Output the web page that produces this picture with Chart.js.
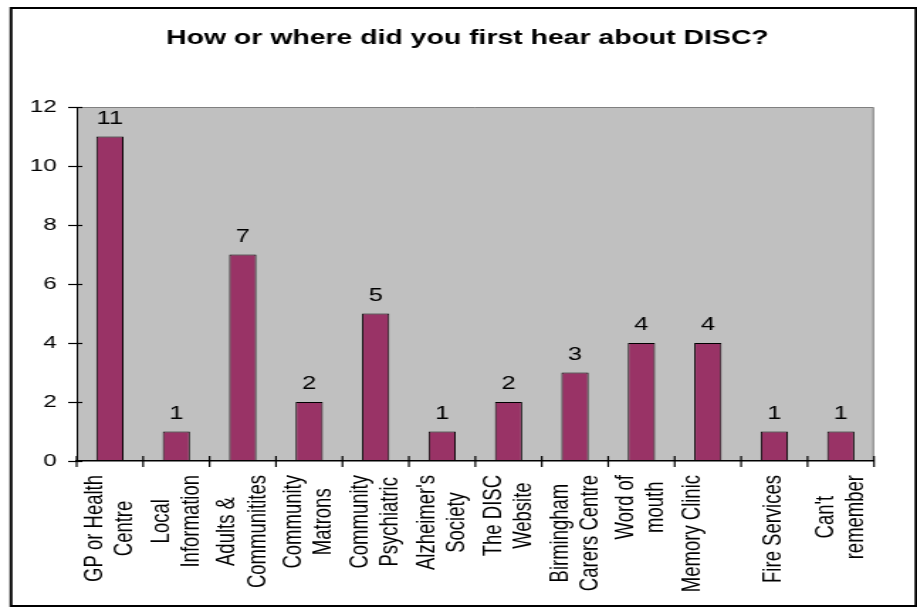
<!DOCTYPE html>
<html lang="en">
<head>
  <meta charset="UTF-8" />
  <title>How or where did you first hear about DISC?</title>
  <script src="https://cdn.jsdelivr.net/npm/chart.js@4.4.1/dist/chart.umd.min.js"></script>
  <style>
    body { margin: 0; background: #ffffff; overflow: hidden; }
    /* the source picture is stretched sideways, so draw narrow and scale up */
    #wrap {
      position: absolute; left: 0; top: 0;
      width: 646px; height: 608px;
      transform: scaleX(1.4195);
      transform-origin: 0 0;
    }
  </style>
</head>
<body>
  <div id="wrap"><canvas id="discChart" width="646" height="608"></canvas></div>

  <script>
    const chartTitle = "How or where did you first hear about DISC?";
    const sources = [
      ["GP or Health", "Centre"],
      ["Local", "Information"],
      ["Adults &", "Communitites"],
      ["Community", "Matrons"],
      ["Community", "Psychiatric"],
      ["Alzheimer's", "Society"],
      ["The DISC", "Website"],
      ["Birmingham", "Carers Centre"],
      ["Word of", "mouth"],
      ["Memory Clinic", ""],
      ["Fire Services"],
      ["Can't", "remember"]
    ];
    const responses = [11, 1, 7, 2, 5, 1, 2, 3, 4, 4, 1, 1];
    const yTicks = [0, 2, 4, 6, 8, 10, 12];

    const FONT = 'Arial, "Liberation Sans", sans-serif';

    const decor = {
      id: "decor",
      beforeDraw(chart) {
        const { ctx, chartArea: a } = chart;
        ctx.save();
        ctx.fillStyle = "#ffffff";
        ctx.fillRect(0, 0, chart.width, chart.height);
        ctx.fillStyle = "#c0c0c0";
        ctx.fillRect(a.left, a.top, a.right - a.left, a.bottom - a.top);
        ctx.strokeStyle = "#808080";
        ctx.lineWidth = 1;
        ctx.beginPath();
        ctx.moveTo(a.left, a.top + 0.5);
        ctx.lineTo(a.right - 0.5, a.top + 0.5);
        ctx.lineTo(a.right - 0.5, a.bottom);
        ctx.stroke();
        // outer frame
        ctx.strokeStyle = "#000000";
        ctx.lineWidth = 2;
        ctx.strokeRect(7.75, 8, 637.5, 598);
        // title
        ctx.fillStyle = "#000000";
        ctx.font = "bold 20px " + FONT;
        ctx.textAlign = "center";
        ctx.textBaseline = "middle";
        ctx.fillText(chartTitle, 329.3, 38);
        ctx.restore();
      },
      afterDraw(chart) {
        const { ctx, chartArea: a } = chart;
        const xs = chart.scales.x, ys = chart.scales.y;
        ctx.save();
        ctx.strokeStyle = "#000000";
        ctx.lineWidth = 1.2;
        // y tick marks crossing the axis
        yTicks.forEach(v => {
          const y = Math.round(ys.getPixelForValue(v)) + 0.5;
          ctx.beginPath();
          ctx.moveTo(a.left - 6, y);
          ctx.lineTo(a.left + 4, y);
          ctx.stroke();
        });
        // x tick marks between categories
        for (let i = 0; i <= sources.length; i++) {
          const x = xs.getPixelForValue(i - 0.5);
          ctx.beginPath();
          ctx.moveTo(x, a.bottom - 5);
          ctx.lineTo(x, a.bottom + 6);
          ctx.stroke();
        }

        // value labels above bars
        ctx.fillStyle = "#000000";
        ctx.font = "18px " + FONT;
        ctx.textAlign = "center";
        ctx.textBaseline = "alphabetic";
        chart.getDatasetMeta(0).data.forEach((bar, i) => {
          ctx.fillText(String(responses[i]), bar.x, bar.y - 13);
        });

        // rotated category labels, lines centred on the longest one
        ctx.font = "18.5px " + FONT;
        chart.data.labels.forEach((lab, i) => {
          const lines = Array.isArray(lab) ? lab : [lab];
          const w = Math.max(...lines.map(l => ctx.measureText(l).width));
          const cy = a.bottom + 14 + w / 2;
          const cx = xs.getPixelForTick(i);
          lines.forEach((line, j) => {
            const off = (j - (lines.length - 1) / 2) * 21.1 + 5;
            ctx.save();
            ctx.translate(cx + off, cy);
            ctx.rotate(-Math.PI / 2);
            ctx.fillText(line, 0, 0);
            ctx.restore();
          });
        });
        ctx.restore();
      }
    };

    const ctx = document.getElementById("discChart").getContext("2d");

    new Chart(ctx, {
      type: "bar",
      data: {
        labels: sources,
        datasets: [{
          data: responses,
          backgroundColor: "#993366",
          borderColor: "#000000",
          borderWidth: 1,
          borderSkipped: false,
          barPercentage: 0.41,
          categoryPercentage: 1
        }]
      },
      options: {
        responsive: false,
        devicePixelRatio: 1,
        animation: false,
        layout: { padding: { top: 107, right: 30.3, left: 0, bottom: 0 } },
        plugins: {
          legend: { display: false },
          title: { display: false },
          tooltip: { enabled: false }
        },
        scales: {
          x: {
            offset: true,
            grid: { display: false, drawTicks: false },
            border: { display: true, color: "#000000", width: 1.5 },
            ticks: { display: false },
            afterFit: s => { s.height = 147; }
          },
          y: {
            min: 0,
            max: 12,
            grid: { display: false, drawTicks: false },
            border: { display: true, color: "#000000", width: 1 },
            afterBuildTicks: s => { s.ticks = yTicks.map(v => ({ value: v })); },
            ticks: {
              color: "#000000",
              font: { family: FONT, size: 17 },
              padding: 14
            },
            afterFit: s => { s.width = 54; }
          }
        }
      },
      plugins: [decor]
    });
  </script>
</body>
</html>
